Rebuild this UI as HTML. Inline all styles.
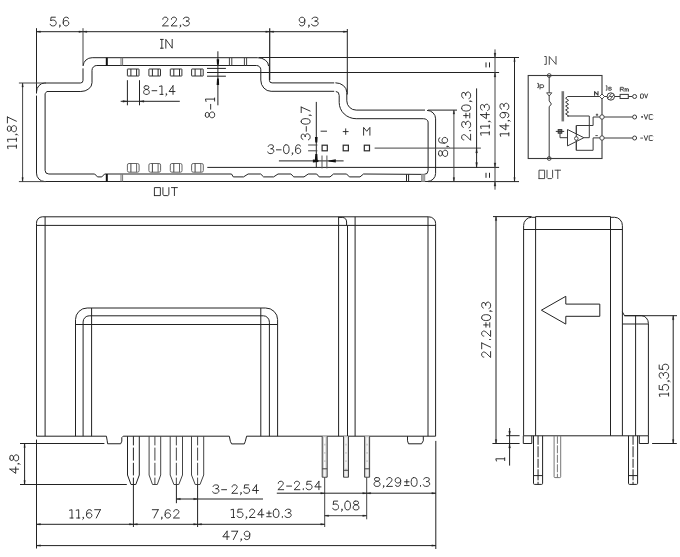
<!DOCTYPE html>
<html><head><meta charset="utf-8"><title>Current sensor outline drawing</title>
<style>html,body{margin:0;padding:0;background:#fff;font-family:"Liberation Sans",sans-serif;}body{width:680px;height:557px;overflow:hidden}</style>
</head><body>
<svg width="680" height="557" viewBox="0 0 680 557" style="display:block">
<rect width="680" height="557" fill="#fff"/>
<path d="M44.6,181.5 A8.1,8.4 0 0 1 36.5,173.1 V95.6 M36.5,93.4 V92 A8.3,9 0 0 1 44.8,83 H80.4 A2.6,2.6 0 0 0 83,80.4 V68.4 M83.2,65.8 A9,8.2 0 0 1 92.2,57.7 H257.7 A10.9,8.4 0 0 1 268.6,66.1 M269.4,66.3 V80.3 A2.7,2.6 0 0 0 272.1,82.9 H334.2 M335.4,82.8 A11.4,9.6 0 0 1 346.8,92.4 V100.8 A9.4,9.3 0 0 0 356.2,110.1 H425 M427,110.4 A8.6,8.4 0 0 1 435.6,118.8 V173.4 A8,8 0 0 1 427.6,181.4 M36.5,181.5" stroke="#222" stroke-width="1.00" fill="none"/>
<line x1="44.60" y1="181.50" x2="428.00" y2="181.50" stroke="#222" stroke-width="1.00"/>
<path d="M48.8,174 A3.8,3.6 0 0 1 45.1,170.4 V93.4 L47,91.5 H80.8 A11.2,8.8 0 0 0 92,82.7 V70.3 A4.8,4.8 0 0 1 96.8,65.5 H256.4 A4.4,4.2 0 0 1 260.8,69.7 V80.1 A10.3,11.2 0 0 0 271.1,91.3 H334.2 M335.8,91.5 A3.4,4 0 0 1 339.2,95.5 V102.5 A17,16.2 0 0 0 356.2,118.7 H423.3 A4.8,3.4 0 0 1 428.1,122.1 V170.6 A4,3.8 0 0 1 424.1,174.4 L363.5,174 L360.0,176.9 L349.4,176.9 L346.6,174 L333.5,174 L330.0,176.9 L319.2,176.9 L316.7,174 L308.2,174 L304.0,176.9 L293.8,176.9 L290.9,174 L278.0,174 L273.6,176.9 L263.6,176.9 L260.7,174 L248.1,174 L243.5,176.9 L233.3,176.9 L231.5,174 L104.6,174 L101.8,176.9 L97.5,176.9 L94.7,174 L48.8,174" stroke="#222" stroke-width="1.00" fill="none"/>
<line x1="106.80" y1="57.70" x2="106.80" y2="65.50" stroke="#111" stroke-width="2.00"/>
<line x1="121.00" y1="57.70" x2="121.00" y2="65.50" stroke="#777" stroke-width="1.00"/>
<line x1="122.60" y1="57.70" x2="122.60" y2="65.50" stroke="#777" stroke-width="1.00"/>
<line x1="106.80" y1="174.00" x2="106.80" y2="181.50" stroke="#111" stroke-width="2.00"/>
<line x1="121.00" y1="174.00" x2="121.00" y2="181.50" stroke="#777" stroke-width="1.00"/>
<line x1="122.60" y1="174.00" x2="122.60" y2="181.50" stroke="#777" stroke-width="1.00"/>
<line x1="229.40" y1="57.80" x2="229.40" y2="65.50" stroke="#444" stroke-width="1.00"/>
<line x1="231.80" y1="57.80" x2="231.80" y2="65.50" stroke="#444" stroke-width="1.00"/>
<line x1="244.40" y1="57.80" x2="244.40" y2="65.50" stroke="#444" stroke-width="1.00"/>
<line x1="246.60" y1="57.80" x2="246.60" y2="65.50" stroke="#444" stroke-width="1.00"/>
<line x1="406.50" y1="174.40" x2="406.50" y2="181.50" stroke="#222" stroke-width="1.00"/>
<line x1="408.60" y1="174.40" x2="408.60" y2="181.50" stroke="#222" stroke-width="1.00"/>
<rect x="421.60" y="174.40" width="3.20" height="7.10" rx="0.00" stroke="#888" stroke-width="0.80" fill="#aaa"/>
<rect x="127.40" y="69.00" width="11.60" height="7.00" rx="0.30" stroke="#333" stroke-width="1.00" fill="none"/>
<line x1="130.90" y1="69.00" x2="130.90" y2="76.00" stroke="#2a2a2a" stroke-width="1.00"/>
<line x1="136.60" y1="69.00" x2="136.60" y2="76.00" stroke="#2a2a2a" stroke-width="1.00"/>
<rect x="127.40" y="163.50" width="11.70" height="8.70" rx="1.60" stroke="#666" stroke-width="1.00" fill="none"/>
<line x1="130.90" y1="163.50" x2="130.90" y2="172.20" stroke="#444" stroke-width="1.00"/>
<line x1="136.60" y1="163.50" x2="136.60" y2="172.20" stroke="#666" stroke-width="1.00"/>
<rect x="148.90" y="69.00" width="11.60" height="7.00" rx="0.30" stroke="#333" stroke-width="1.00" fill="none"/>
<line x1="152.40" y1="69.00" x2="152.40" y2="76.00" stroke="#2a2a2a" stroke-width="1.00"/>
<line x1="158.10" y1="69.00" x2="158.10" y2="76.00" stroke="#2a2a2a" stroke-width="1.00"/>
<rect x="148.90" y="163.50" width="11.70" height="8.70" rx="1.60" stroke="#666" stroke-width="1.00" fill="none"/>
<line x1="152.40" y1="163.50" x2="152.40" y2="172.20" stroke="#444" stroke-width="1.00"/>
<line x1="158.10" y1="163.50" x2="158.10" y2="172.20" stroke="#666" stroke-width="1.00"/>
<rect x="170.30" y="69.00" width="11.60" height="7.00" rx="0.30" stroke="#333" stroke-width="1.00" fill="none"/>
<line x1="173.80" y1="69.00" x2="173.80" y2="76.00" stroke="#2a2a2a" stroke-width="1.00"/>
<line x1="179.50" y1="69.00" x2="179.50" y2="76.00" stroke="#2a2a2a" stroke-width="1.00"/>
<rect x="170.30" y="163.50" width="11.70" height="8.70" rx="1.60" stroke="#666" stroke-width="1.00" fill="none"/>
<line x1="173.80" y1="163.50" x2="173.80" y2="172.20" stroke="#444" stroke-width="1.00"/>
<line x1="179.50" y1="163.50" x2="179.50" y2="172.20" stroke="#666" stroke-width="1.00"/>
<rect x="191.60" y="69.00" width="11.60" height="7.00" rx="0.30" stroke="#333" stroke-width="1.00" fill="none"/>
<line x1="195.10" y1="69.00" x2="195.10" y2="76.00" stroke="#2a2a2a" stroke-width="1.00"/>
<line x1="200.80" y1="69.00" x2="200.80" y2="76.00" stroke="#2a2a2a" stroke-width="1.00"/>
<rect x="191.60" y="163.50" width="11.70" height="8.70" rx="1.60" stroke="#666" stroke-width="1.00" fill="none"/>
<line x1="195.10" y1="163.50" x2="195.10" y2="172.20" stroke="#444" stroke-width="1.00"/>
<line x1="200.80" y1="163.50" x2="200.80" y2="172.20" stroke="#666" stroke-width="1.00"/>
<rect x="322.10" y="145.20" width="5.20" height="5.60" rx="0.00" stroke="#2a2a2a" stroke-width="1.20" fill="none"/>
<rect x="343.20" y="145.20" width="5.20" height="5.60" rx="0.00" stroke="#2a2a2a" stroke-width="1.20" fill="none"/>
<rect x="364.30" y="145.20" width="5.20" height="5.60" rx="0.00" stroke="#2a2a2a" stroke-width="1.20" fill="none"/>
<path d="M321.00,131.20L326.60,131.20" stroke="#222" stroke-width="0.92" fill="none" stroke-linecap="round" stroke-linejoin="round"/>
<path d="M345.70,134.40L345.70,128.80M343.20,131.60L348.20,131.60" stroke="#222" stroke-width="0.92" fill="none" stroke-linecap="round" stroke-linejoin="round"/>
<path d="M363.60,135.20L363.60,127.40L366.75,131.30L369.90,127.40L369.90,135.20" stroke="#222" stroke-width="0.92" fill="none" stroke-linecap="round" stroke-linejoin="round"/>
<path d="M160.40,48.20L163.27,48.20M161.84,48.20L161.84,39.40M160.40,39.40L163.27,39.40M165.82,48.20L165.82,39.40L172.20,48.20L172.20,39.40" stroke="#222" stroke-width="0.92" fill="none" stroke-linecap="round" stroke-linejoin="round"/>
<path d="M154.40,195.60L154.40,187.60L160.36,187.60L160.36,195.60L154.40,195.60M162.92,187.60L162.92,194.67L163.96,195.60L167.84,195.60L168.88,194.67L168.88,187.60M171.44,187.60L177.40,187.60M174.42,187.60L174.42,195.60" stroke="#222" stroke-width="0.92" fill="none" stroke-linecap="round" stroke-linejoin="round"/>
<line x1="36.50" y1="31.70" x2="347.30" y2="31.70" stroke="#222" stroke-width="1.00"/>
<line x1="36.50" y1="28.20" x2="36.50" y2="93.20" stroke="#222" stroke-width="1.00"/>
<line x1="83.00" y1="28.20" x2="83.00" y2="65.80" stroke="#444" stroke-width="1.00"/>
<line x1="269.70" y1="28.20" x2="269.70" y2="80.00" stroke="#222" stroke-width="1.20"/>
<line x1="347.30" y1="29.00" x2="347.30" y2="94.50" stroke="#222" stroke-width="1.00"/>
<path d="M36.50,31.70L40.50,30.95L40.50,32.45Z" fill="#222" stroke="#222" stroke-width="0.3"/>
<path d="M82.90,31.70L78.90,32.45L78.90,30.95Z" fill="#222" stroke="#222" stroke-width="0.3"/>
<path d="M82.90,31.70L86.90,30.95L86.90,32.45Z" fill="#222" stroke="#222" stroke-width="0.3"/>
<path d="M269.70,31.70L265.70,32.45L265.70,30.95Z" fill="#222" stroke="#222" stroke-width="0.3"/>
<path d="M269.70,31.70L273.70,30.95L273.70,32.45Z" fill="#222" stroke="#222" stroke-width="0.3"/>
<path d="M347.30,31.70L343.30,32.45L343.30,30.95Z" fill="#222" stroke="#222" stroke-width="0.3"/>
<path d="M55.35,17.20L51.06,17.20L50.63,20.93L51.06,20.51L52.35,20.10L53.63,20.10L54.92,20.51L55.78,21.34L56.21,22.59L56.21,23.41L55.78,24.66L54.92,25.49L53.63,25.90L52.35,25.90L51.06,25.49L50.63,25.07L50.20,24.24M60.18,25.49L59.71,25.90L59.25,25.49L59.71,25.07L60.18,25.49L60.18,26.15L59.81,26.89L59.34,27.31M68.37,18.44L67.94,17.61L66.65,17.20L65.80,17.20L64.51,17.61L63.65,18.86L63.22,20.93L63.22,23.00L63.65,24.66L64.51,25.49L65.80,25.90L66.23,25.90L67.51,25.49L68.37,24.66L68.80,23.41L68.80,23.00L68.37,21.76L67.51,20.93L66.23,20.51L65.80,20.51L64.51,20.93L63.65,21.76L63.22,23.00" stroke="#222" stroke-width="0.92" fill="none" stroke-linecap="round" stroke-linejoin="round"/>
<path d="M162.82,19.27L162.82,18.86L163.24,18.03L163.65,17.61L164.49,17.20L166.16,17.20L167.00,17.61L167.42,18.03L167.84,18.86L167.84,19.69L167.42,20.51L166.58,21.76L162.40,25.90L168.25,25.90M171.45,19.27L171.45,18.86L171.87,18.03L172.29,17.61L173.13,17.20L174.80,17.20L175.64,17.61L176.05,18.03L176.47,18.86L176.47,19.69L176.05,20.51L175.22,21.76L171.04,25.90L176.89,25.90M180.76,25.49L180.31,25.90L179.85,25.49L180.31,25.07L180.76,25.49L180.76,26.15L180.40,26.89L179.95,27.31M183.49,18.86L183.95,18.03L184.85,17.45L185.76,17.20L187.13,17.20L188.49,17.61L188.95,18.44L188.95,19.48L188.49,20.31L187.35,20.93L185.99,21.14L187.35,21.14L188.49,21.55L189.17,22.38L189.40,23.41L189.40,23.83L188.95,24.66L188.04,25.49L186.67,25.90L185.31,25.90L183.95,25.49L183.49,25.07L183.04,24.24" stroke="#222" stroke-width="0.92" fill="none" stroke-linecap="round" stroke-linejoin="round"/>
<path d="M304.82,20.10L304.39,21.34L303.53,22.17L302.23,22.59L301.80,22.59L300.50,22.17L299.63,21.34L299.20,20.10L299.20,19.69L299.63,18.44L300.50,17.61L301.80,17.20L302.23,17.20L303.53,17.61L304.39,18.44L304.82,20.10L304.82,22.17L304.39,24.24L303.53,25.49L302.23,25.90L301.36,25.90L300.07,25.49L299.63,24.66M309.26,25.49L308.79,25.90L308.32,25.49L308.79,25.07L309.26,25.49L309.26,26.15L308.89,26.89L308.42,27.31M312.09,18.86L312.56,18.03L313.50,17.45L314.44,17.20L315.85,17.20L317.26,17.61L317.73,18.44L317.73,19.48L317.26,20.31L316.08,20.93L314.67,21.14L316.08,21.14L317.26,21.55L317.96,22.38L318.20,23.41L318.20,23.83L317.73,24.66L316.79,25.49L315.38,25.90L313.97,25.90L312.56,25.49L312.09,25.07L311.62,24.24" stroke="#222" stroke-width="0.92" fill="none" stroke-linecap="round" stroke-linejoin="round"/>
<line x1="18.90" y1="83.00" x2="46.00" y2="83.00" stroke="#444" stroke-width="1.00"/>
<line x1="18.90" y1="181.60" x2="46.00" y2="181.60" stroke="#444" stroke-width="1.00"/>
<line x1="22.60" y1="83.00" x2="22.60" y2="181.60" stroke="#444" stroke-width="1.00"/>
<path d="M22.60,83.00L23.35,87.00L21.85,87.00Z" fill="#222" stroke="#222" stroke-width="0.3"/>
<path d="M22.60,181.60L21.85,177.60L23.35,177.60Z" fill="#222" stroke="#222" stroke-width="0.3"/>
<path d="M8.04,148.70L7.40,146.17L16.40,146.17M16.40,148.24L16.40,145.02M8.04,141.81L7.40,139.28L16.40,139.28M16.40,141.35L16.40,138.13M15.97,134.22L16.40,134.68L15.97,135.14L15.54,134.68L15.97,134.22L16.66,134.22L17.43,134.59L17.86,135.05M7.40,129.54L7.83,130.80L8.69,131.23L9.54,131.23L10.40,130.80L10.83,129.96L11.26,128.27L11.69,127.00L12.54,126.15L13.40,125.73L14.69,125.73L15.54,126.15L15.97,126.58L16.40,127.85L16.40,129.54L15.97,130.80L15.54,131.23L14.69,131.65L13.40,131.65L12.54,131.23L11.69,130.38L11.26,129.11L10.83,127.42L10.40,126.58L9.54,126.15L8.69,126.15L7.83,126.58L7.40,127.85L7.40,129.54M7.40,117.00L16.40,121.23M7.40,122.92L7.40,117.00" stroke="#222" stroke-width="0.92" fill="none" stroke-linecap="round" stroke-linejoin="round"/>
<line x1="127.40" y1="80.20" x2="127.40" y2="105.30" stroke="#222" stroke-width="1.00"/>
<line x1="139.50" y1="80.20" x2="139.50" y2="105.30" stroke="#222" stroke-width="1.00"/>
<line x1="120.70" y1="101.30" x2="179.80" y2="101.30" stroke="#222" stroke-width="1.00"/>
<path d="M127.40,101.30L122.90,102.20L122.90,100.40Z" fill="#222" stroke="#222" stroke-width="0.3"/>
<path d="M139.50,101.30L144.00,100.40L144.00,102.20Z" fill="#222" stroke="#222" stroke-width="0.3"/>
<path d="M145.68,85.80L144.49,86.21L144.10,87.03L144.10,87.85L144.49,88.67L145.28,89.08L146.86,89.49L148.05,89.90L148.84,90.71L149.24,91.53L149.24,92.76L148.84,93.58L148.45,93.99L147.26,94.40L145.68,94.40L144.49,93.99L144.10,93.58L143.70,92.76L143.70,91.53L144.10,90.71L144.89,89.90L146.07,89.49L147.66,89.08L148.45,88.67L148.84,87.85L148.84,87.03L148.45,86.21L147.26,85.80L145.68,85.80M152.04,90.71L156.77,90.71M159.56,86.41L161.93,85.80L161.93,94.40M159.99,94.40L163.00,94.40M166.66,93.99L166.23,94.40L165.80,93.99L166.23,93.58L166.66,93.99L166.66,94.65L166.32,95.38L165.89,95.79M173.02,85.80L169.07,91.53L175.00,91.53M173.02,85.80L173.02,94.40" stroke="#222" stroke-width="0.92" fill="none" stroke-linecap="round" stroke-linejoin="round"/>
<line x1="217.90" y1="51.30" x2="217.90" y2="105.30" stroke="#222" stroke-width="1.00"/>
<line x1="207.00" y1="68.40" x2="225.90" y2="68.40" stroke="#222" stroke-width="1.00"/>
<line x1="207.00" y1="76.20" x2="225.90" y2="76.20" stroke="#222" stroke-width="1.00"/>
<path d="M216.65,59.20L217.00,64.80L218.80,64.80L219.15,59.20Z" fill="#111"/>
<path d="M219.15,85.10L218.80,78.60L217.00,78.60L216.65,85.10Z" fill="#111"/>
<path d="M205.40,115.68L205.84,116.89L206.71,117.30L207.59,117.30L208.47,116.89L208.90,116.09L209.34,114.47L209.78,113.26L210.66,112.45L211.53,112.05L212.85,112.05L213.72,112.45L214.16,112.86L214.60,114.07L214.60,115.68L214.16,116.89L213.72,117.30L212.85,117.70L211.53,117.70L210.66,117.30L209.78,116.49L209.34,115.28L208.90,113.66L208.47,112.86L207.59,112.45L206.71,112.45L205.84,112.86L205.40,114.07L205.40,115.68M210.66,109.19L210.66,104.36M206.06,101.51L205.40,99.10L214.60,99.10M214.60,101.07L214.60,98.00" stroke="#222" stroke-width="0.92" fill="none" stroke-linecap="round" stroke-linejoin="round"/>
<line x1="259.00" y1="57.50" x2="519.00" y2="57.50" stroke="#222" stroke-width="1.00"/>
<line x1="207.00" y1="72.50" x2="499.10" y2="72.50" stroke="#222" stroke-width="1.00"/>
<line x1="207.30" y1="167.40" x2="499.10" y2="167.40" stroke="#222" stroke-width="1.00"/>
<line x1="428.00" y1="181.60" x2="519.00" y2="181.60" stroke="#222" stroke-width="1.00"/>
<line x1="374.60" y1="148.10" x2="480.90" y2="148.10" stroke="#444" stroke-width="1.00"/>
<line x1="428.00" y1="110.10" x2="457.00" y2="110.10" stroke="#222" stroke-width="1.00"/>
<line x1="453.90" y1="110.10" x2="453.90" y2="181.60" stroke="#444" stroke-width="1.00"/>
<path d="M453.90,110.10L454.65,114.10L453.15,114.10Z" fill="#222" stroke="#222" stroke-width="0.3"/>
<path d="M453.90,181.60L453.15,177.60L454.65,177.60Z" fill="#222" stroke="#222" stroke-width="0.3"/>
<path d="M438.60,154.21L439.03,155.52L439.89,155.96L440.74,155.96L441.60,155.52L442.03,154.65L442.46,152.89L442.89,151.58L443.74,150.70L444.60,150.26L445.89,150.26L446.74,150.70L447.17,151.14L447.60,152.46L447.60,154.21L447.17,155.52L446.74,155.96L445.89,156.40L444.60,156.40L443.74,155.96L442.89,155.09L442.46,153.77L442.03,152.02L441.60,151.14L440.74,150.70L439.89,150.70L439.03,151.14L438.60,152.46L438.60,154.21M447.17,146.20L447.60,146.68L447.17,147.16L446.74,146.68L447.17,146.20L447.86,146.20L448.63,146.59L449.06,147.06M439.89,137.84L439.03,138.28L438.60,139.59L438.60,140.47L439.03,141.78L440.31,142.66L442.46,143.10L444.60,143.10L446.31,142.66L447.17,141.78L447.60,140.47L447.60,140.03L447.17,138.71L446.31,137.84L445.03,137.40L444.60,137.40L443.31,137.84L442.46,138.71L442.03,140.03L442.03,140.47L442.46,141.78L443.31,142.66L444.60,143.10" stroke="#222" stroke-width="0.92" fill="none" stroke-linecap="round" stroke-linejoin="round"/>
<line x1="476.60" y1="88.40" x2="476.60" y2="167.40" stroke="#222" stroke-width="1.00"/>
<path d="M476.60,148.10L477.50,152.90L475.70,152.90Z" fill="#222" stroke="#222" stroke-width="0.3"/>
<path d="M476.60,167.40L475.70,162.60L477.50,162.60Z" fill="#222" stroke="#222" stroke-width="0.3"/>
<path d="M463.82,139.87L463.40,139.87L462.55,139.43L462.12,139.00L461.70,138.13L461.70,136.39L462.12,135.53L462.55,135.09L463.40,134.66L464.24,134.66L465.09,135.09L466.36,135.96L470.60,140.30L470.60,134.22M469.75,130.68L470.18,131.15L470.60,130.68L470.18,130.21L469.75,130.68M463.40,127.38L462.55,126.90L461.95,125.96L461.70,125.02L461.70,123.60L462.12,122.19L462.97,121.72L464.03,121.72L464.88,122.19L465.51,123.37L465.73,124.78L465.73,123.37L466.15,122.19L467.00,121.48L468.06,121.24L468.48,121.24L469.33,121.72L470.18,122.66L470.60,124.07L470.60,125.49L470.18,126.90L469.75,127.38L468.90,127.85M463.61,115.58L468.27,115.58M465.94,117.94L465.94,113.23M469.75,117.94L469.75,113.23M461.70,108.45L462.12,109.75L463.40,110.62L465.51,111.06L466.79,111.06L468.90,110.62L470.18,109.75L470.60,108.45L470.60,107.58L470.18,106.28L468.90,105.41L466.79,104.98L465.51,104.98L463.40,105.41L462.12,106.28L461.70,107.58L461.70,108.45M470.18,100.96L470.60,101.43L470.18,101.91L469.75,101.43L470.18,100.96L470.85,100.96L471.62,101.34L472.04,101.81M463.40,98.13L462.55,97.66L461.95,96.72L461.70,95.77L461.70,94.36L462.12,92.94L462.97,92.47L464.03,92.47L464.88,92.94L465.51,94.12L465.73,95.54L465.73,94.12L466.15,92.94L467.00,92.24L468.06,92.00L468.48,92.00L469.33,92.47L470.18,93.42L470.60,94.83L470.60,96.25L470.18,97.66L469.75,98.13L468.90,98.60" stroke="#222" stroke-width="0.92" fill="none" stroke-linecap="round" stroke-linejoin="round"/>
<line x1="495.00" y1="49.40" x2="495.00" y2="189.70" stroke="#444" stroke-width="1.00"/>
<path d="M495.00,57.60L494.15,53.10L495.85,53.10Z" fill="#222" stroke="#222" stroke-width="0.3"/>
<path d="M495.00,72.50L495.85,77.00L494.15,77.00Z" fill="#222" stroke="#222" stroke-width="0.3"/>
<path d="M495.00,167.40L494.15,162.90L495.85,162.90Z" fill="#222" stroke="#222" stroke-width="0.3"/>
<path d="M495.00,181.60L495.85,186.10L494.15,186.10Z" fill="#222" stroke="#222" stroke-width="0.3"/>
<path d="M481.13,135.30L480.50,132.84L489.30,132.84M489.30,134.85L489.30,131.72M481.13,128.59L480.50,126.13L489.30,126.13M489.30,128.14L489.30,125.01M488.88,121.20L489.30,121.65L488.88,122.10L488.46,121.65L488.88,121.20L489.55,121.20L490.31,121.56L490.72,122.01M480.50,114.58L486.37,118.70L486.37,112.52M480.50,114.58L489.30,114.58M482.18,110.02L481.34,109.57L480.75,108.67L480.50,107.78L480.50,106.44L480.92,105.09L481.76,104.65L482.80,104.65L483.64,105.09L484.27,106.21L484.48,107.56L484.48,106.21L484.90,105.09L485.74,104.42L486.79,104.20L487.20,104.20L488.04,104.65L488.88,105.54L489.30,106.88L489.30,108.23L488.88,109.57L488.46,110.02L487.62,110.46" stroke="#222" stroke-width="0.92" fill="none" stroke-linecap="round" stroke-linejoin="round"/>
<line x1="486.00" y1="62.40" x2="486.00" y2="67.40" stroke="#222" stroke-width="1.00"/>
<line x1="489.50" y1="62.40" x2="489.50" y2="67.40" stroke="#222" stroke-width="1.00"/>
<line x1="486.00" y1="172.80" x2="486.00" y2="177.80" stroke="#222" stroke-width="1.00"/>
<line x1="489.50" y1="172.80" x2="489.50" y2="177.80" stroke="#222" stroke-width="1.00"/>
<line x1="514.50" y1="57.60" x2="514.50" y2="181.60" stroke="#222" stroke-width="1.00"/>
<path d="M514.50,57.60L515.25,61.60L513.75,61.60Z" fill="#222" stroke="#222" stroke-width="0.3"/>
<path d="M514.50,181.60L513.75,177.60L515.25,177.60Z" fill="#222" stroke="#222" stroke-width="0.3"/>
<path d="M500.63,136.30L500.00,133.83L508.80,133.83M508.80,135.85L508.80,132.71M500.00,125.84L505.87,129.97L505.87,123.77M500.00,125.84L508.80,125.84M508.38,120.36L508.80,120.81L508.38,121.26L507.96,120.81L508.38,120.36L509.05,120.36L509.81,120.72L510.22,121.17M502.93,112.48L504.19,112.89L505.03,113.72L505.45,114.96L505.45,115.37L505.03,116.61L504.19,117.43L502.93,117.85L502.51,117.85L501.26,117.43L500.42,116.61L500.00,115.37L500.00,114.96L500.42,113.72L501.26,112.89L502.93,112.48L505.03,112.48L507.12,112.89L508.38,113.72L508.80,114.96L508.80,115.78L508.38,117.02L507.54,117.43M501.68,109.14L500.84,108.69L500.25,107.79L500.00,106.89L500.00,105.54L500.42,104.20L501.26,103.75L502.30,103.75L503.14,104.20L503.77,105.32L503.98,106.67L503.98,105.32L504.40,104.20L505.24,103.52L506.29,103.30L506.70,103.30L507.54,103.75L508.38,104.65L508.80,105.99L508.80,107.34L508.38,108.69L507.96,109.14L507.12,109.59" stroke="#222" stroke-width="0.92" fill="none" stroke-linecap="round" stroke-linejoin="round"/>
<line x1="316.30" y1="101.90" x2="316.30" y2="167.40" stroke="#222" stroke-width="1.00"/>
<line x1="308.10" y1="145.00" x2="317.40" y2="145.00" stroke="#444" stroke-width="1.00"/>
<line x1="308.10" y1="150.80" x2="317.40" y2="150.80" stroke="#444" stroke-width="1.00"/>
<path d="M314.95,136.90L315.30,142.40L317.30,142.40L317.65,136.90Z" fill="#111"/>
<path d="M317.75,160.60L317.30,154.00L315.30,154.00L314.85,160.60Z" fill="#111"/>
<path d="M302.90,139.37L302.05,138.94L301.45,138.09L301.20,137.23L301.20,135.95L301.62,134.67L302.47,134.24L303.53,134.24L304.38,134.67L305.01,135.74L305.23,137.02L305.23,135.74L305.65,134.67L306.50,134.03L307.56,133.81L307.98,133.81L308.83,134.24L309.68,135.10L310.10,136.38L310.10,137.66L309.68,138.94L309.25,139.37L308.40,139.80M306.29,131.25L306.29,126.55M301.20,121.79L301.62,122.97L302.90,123.76L305.01,124.15L306.29,124.15L308.40,123.76L309.68,122.97L310.10,121.79L310.10,121.00L309.68,119.82L308.40,119.04L306.29,118.64L305.01,118.64L302.90,119.04L301.62,119.82L301.20,121.00L301.20,121.79M309.68,115.00L310.10,115.43L309.68,115.86L309.25,115.43L309.68,115.00L310.35,115.00L311.12,115.34L311.54,115.77M301.20,107.10L310.10,111.03M301.20,112.61L301.20,107.10" stroke="#222" stroke-width="0.92" fill="none" stroke-linecap="round" stroke-linejoin="round"/>
<path d="M268.23,146.48L268.66,145.64L269.52,145.05L270.38,144.80L271.67,144.80L272.96,145.22L273.39,146.06L273.39,147.10L272.96,147.94L271.89,148.57L270.60,148.78L271.89,148.78L272.96,149.20L273.61,150.04L273.82,151.09L273.82,151.50L273.39,152.34L272.53,153.18L271.24,153.60L269.95,153.60L268.66,153.18L268.23,152.76L267.80,151.92M276.40,149.83L281.14,149.83M285.92,144.80L284.73,145.22L283.94,146.48L283.54,148.57L283.54,149.83L283.94,151.92L284.73,153.18L285.92,153.60L286.71,153.60L287.90,153.18L288.69,151.92L289.09,149.83L289.09,148.57L288.69,146.48L287.90,145.22L286.71,144.80L285.92,144.80M292.75,153.18L292.32,153.60L291.89,153.18L292.32,152.76L292.75,153.18L292.75,153.85L292.41,154.61L291.98,155.02M300.30,146.06L299.91,145.22L298.72,144.80L297.93,144.80L296.74,145.22L295.95,146.48L295.56,148.57L295.56,150.67L295.95,152.34L296.74,153.18L297.93,153.60L298.33,153.60L299.51,153.18L300.30,152.34L300.70,151.09L300.70,150.67L300.30,149.41L299.51,148.57L298.33,148.15L297.93,148.15L296.74,148.57L295.95,149.41L295.56,150.67" stroke="#222" stroke-width="0.92" fill="none" stroke-linecap="round" stroke-linejoin="round"/>
<line x1="278.90" y1="160.90" x2="343.60" y2="160.90" stroke="#222" stroke-width="1.00"/>
<line x1="322.00" y1="155.50" x2="322.00" y2="168.40" stroke="#555" stroke-width="1.00"/>
<line x1="326.90" y1="155.50" x2="326.90" y2="168.40" stroke="#555" stroke-width="1.00"/>
<path d="M312.90,162.40L318.40,161.90L318.40,159.90L312.90,159.40Z" fill="#111"/>
<path d="M335.80,159.20L328.60,160.40L328.60,161.40L335.80,162.60Z" fill="#111"/>
<rect x="528.20" y="75.50" width="73.80" height="83.00" rx="0.00" stroke="#3a3a3a" stroke-width="1.10" fill="none"/>
<line x1="549.20" y1="75.50" x2="549.20" y2="100.90" stroke="#3a3a3a" stroke-width="1.00"/>
<path d="M549.2,100.9 L551.4,104 L549.2,106.8 V158.5" stroke="#3a3a3a" stroke-width="1.00" fill="none"/>
<path d="M546.6,92.8 H551.8 L549.2,96 Z" stroke="#3a3a3a" stroke-width="0.90" fill="#fff"/>
<circle cx="549.20" cy="75.50" r="1.90" stroke="#3a3a3a" stroke-width="0.90" fill="none"/>
<circle cx="549.20" cy="158.50" r="1.90" stroke="#3a3a3a" stroke-width="0.90" fill="none"/>
<line x1="562.80" y1="91.20" x2="562.80" y2="121.40" stroke="#777" stroke-width="2.60"/>
<path d="M602,96.5 H567.6 L565.6,98.25 L568.6,100.40 L565.6,102.16 L568.6,104.30 L565.6,106.06 L568.6,108.20 L565.6,109.96 L568.6,112.10 L565.6,113.86 L568.6,116.00 L567.4,116 H589.3 V137.7 H583.9" stroke="#3a3a3a" stroke-width="1.00" fill="none"/>
<path d="M602,117 H593.1 V125.5 H576.3 V150.3 H593.1 V137.9 H602" stroke="#3a3a3a" stroke-width="1.00" fill="none"/>
<path d="M567.5,129.5 V145.9 L583.9,137.7 Z" stroke="#3a3a3a" stroke-width="1.00" fill="#fff"/>
<line x1="576.30" y1="125.50" x2="576.30" y2="150.30" stroke="#3a3a3a" stroke-width="1.00"/>
<circle cx="576.30" cy="138.50" r="1.80" stroke="#3a3a3a" stroke-width="0.90" fill="#fff"/>
<rect x="558.20" y="129.60" width="3.60" height="3.60" rx="0.00" stroke="#333" stroke-width="1.00" fill="#777"/>
<line x1="555.80" y1="131.40" x2="564.20" y2="131.40" stroke="#333" stroke-width="1.00"/>
<path d="M560,133.2 V137.7 H567.5" stroke="#3a3a3a" stroke-width="1.00" fill="none"/>
<line x1="602.00" y1="96.50" x2="632.30" y2="96.50" stroke="#3a3a3a" stroke-width="1.00"/>
<path d="M599.5,96.5 L602,94 L604.5,96.5 L602,99 Z" stroke="#3a3a3a" stroke-width="0.90" fill="#fff"/>
<circle cx="610.80" cy="96.50" r="3.70" stroke="#3a3a3a" stroke-width="1.00" fill="#fff"/>
<path d="M607.6,98.4 L611.6,93.4 M610,99.6 L614,94.6 M609.4,96.2 L612.2,96.8" stroke="#3a3a3a" stroke-width="0.90" fill="none"/>
<rect x="620.10" y="94.40" width="8.20" height="4.10" rx="0.00" stroke="#3a3a3a" stroke-width="1.00" fill="#fff"/>
<circle cx="634.60" cy="96.50" r="2.00" stroke="#3a3a3a" stroke-width="1.00" fill="#fff"/>
<line x1="602.00" y1="117.00" x2="632.30" y2="117.00" stroke="#3a3a3a" stroke-width="1.00"/>
<line x1="602.00" y1="138.00" x2="632.30" y2="138.00" stroke="#3a3a3a" stroke-width="1.00"/>
<circle cx="602.00" cy="117.00" r="2.20" stroke="#3a3a3a" stroke-width="0.90" fill="#fff"/>
<circle cx="602.00" cy="138.00" r="2.20" stroke="#3a3a3a" stroke-width="0.90" fill="#fff"/>
<circle cx="634.60" cy="117.00" r="2.00" stroke="#3a3a3a" stroke-width="1.00" fill="#fff"/>
<circle cx="634.60" cy="138.00" r="2.00" stroke="#3a3a3a" stroke-width="1.00" fill="#fff"/>
<path d="M544.70,56.50L546.24,56.50L546.24,64.40L544.70,64.40M549.27,64.40L549.27,56.50L556.00,64.40L556.00,56.50" stroke="#3a3a3a" stroke-width="0.92" fill="none" stroke-linecap="round" stroke-linejoin="round"/>
<path d="M539.00,178.60L539.00,170.20L544.60,170.20L544.60,178.60L539.00,178.60M547.00,170.20L547.00,177.62L547.98,178.60L551.62,178.60L552.60,177.62L552.60,170.20M555.00,170.20L560.60,170.20M557.80,170.20L557.80,178.60" stroke="#3a3a3a" stroke-width="0.92" fill="none" stroke-linecap="round" stroke-linejoin="round"/>
<path d="M537.60,83.40L538.42,83.40L538.42,87.60L537.60,87.60M540.03,89.00L540.03,84.80M540.03,85.29L540.65,84.80L542.97,84.80L543.60,85.29L543.60,87.11L542.97,87.60L540.65,87.60L540.03,87.11" stroke="#3a3a3a" stroke-width="0.90" fill="none" stroke-linecap="round" stroke-linejoin="round"/>
<path d="M594.60,95.20L594.60,91.60L598.00,95.20L598.00,91.60" stroke="#3a3a3a" stroke-width="1.10" fill="none" stroke-linecap="round" stroke-linejoin="round"/>
<path d="M606.20,85.80L606.92,85.80L606.92,90.20L606.20,90.20M611.50,87.78L610.95,87.27L608.90,87.27L608.34,87.78L608.34,88.22L608.90,88.73L610.95,88.73L611.50,89.25L611.50,89.69L610.95,90.20L608.90,90.20L608.34,89.69" stroke="#3a3a3a" stroke-width="0.90" fill="none" stroke-linecap="round" stroke-linejoin="round"/>
<path d="M620.30,91.20L620.30,87.30L623.09,87.30L623.68,87.75L623.68,88.80L623.09,89.25L620.30,89.25M621.99,89.25L623.68,91.20M625.12,91.20L625.12,88.60M625.12,89.06L625.71,88.60L626.31,88.60L626.81,89.06L626.81,91.20M626.81,89.06L627.40,88.60L627.99,88.60L628.50,89.06L628.50,91.20" stroke="#3a3a3a" stroke-width="0.90" fill="none" stroke-linecap="round" stroke-linejoin="round"/>
<path d="M640.50,97.78L640.50,94.42L640.94,94.00L642.99,94.00L643.42,94.42L643.42,97.78L642.99,98.20L640.94,98.20L640.50,97.78M644.68,94.00L646.14,98.20L647.60,94.00" stroke="#3a3a3a" stroke-width="0.90" fill="none" stroke-linecap="round" stroke-linejoin="round"/>
<path d="M644.20,114.60L645.95,119.40L647.70,114.60M652.70,114.92L652.44,114.60L649.55,114.60L649.20,114.92L649.20,119.08L649.55,119.40L652.44,119.40L652.70,119.08" stroke="#3a3a3a" stroke-width="0.90" fill="none" stroke-linecap="round" stroke-linejoin="round"/>
<path d="M644.20,135.70L645.95,140.50L647.70,135.70M652.70,136.02L652.44,135.70L649.55,135.70L649.20,136.02L649.20,140.18L649.55,140.50L652.44,140.50L652.70,140.18" stroke="#3a3a3a" stroke-width="0.90" fill="none" stroke-linecap="round" stroke-linejoin="round"/>
<line x1="641.20" y1="116.90" x2="643.00" y2="116.90" stroke="#3a3a3a" stroke-width="1.00"/>
<line x1="642.10" y1="116.00" x2="642.10" y2="117.80" stroke="#3a3a3a" stroke-width="1.00"/>
<line x1="640.30" y1="138.10" x2="643.00" y2="138.10" stroke="#3a3a3a" stroke-width="0.90"/>
<line x1="595.80" y1="114.80" x2="598.20" y2="114.80" stroke="#3a3a3a" stroke-width="0.90"/>
<line x1="597.00" y1="113.60" x2="597.00" y2="116.00" stroke="#3a3a3a" stroke-width="0.90"/>
<line x1="595.40" y1="135.60" x2="597.80" y2="135.60" stroke="#3a3a3a" stroke-width="0.90"/>
<path d="M36.5,436.2 V223.4 A6,6.2 0 0 1 42.3,216.8 H428.6 A7,6.4 0 0 1 435.6,223.6 V436.2" stroke="#222" stroke-width="1.00" fill="none"/>
<line x1="36.50" y1="225.40" x2="435.60" y2="225.40" stroke="#222" stroke-width="1.00"/>
<line x1="45.10" y1="216.80" x2="45.10" y2="436.20" stroke="#222" stroke-width="1.00"/>
<line x1="338.60" y1="216.80" x2="338.60" y2="436.20" stroke="#222" stroke-width="1.00"/>
<path d="M338.6,217.4 H342.3 A4.6,4.8 0 0 1 346.6,222 V225.4" stroke="#222" stroke-width="1.00" fill="none"/>
<line x1="347.50" y1="225.40" x2="347.50" y2="436.20" stroke="#222" stroke-width="1.00"/>
<line x1="355.10" y1="216.80" x2="355.10" y2="436.20" stroke="#222" stroke-width="1.00"/>
<line x1="428.00" y1="216.80" x2="428.00" y2="436.20" stroke="#222" stroke-width="1.00"/>
<path d="M75.5,436.2 V319.6 A11.7,11.6 0 0 1 87.2,308 H265.6 A12,11.6 0 0 1 277.6,319.6 V436.2" stroke="#222" stroke-width="1.00" fill="none"/>
<path d="M83.1,436.2 V322 A6.1,6.2 0 0 1 89.2,315.8 H263.4 A6,6.4 0 0 1 269.4,322.2 V436.2" stroke="#222" stroke-width="1.00" fill="none"/>
<line x1="75.50" y1="324.50" x2="277.60" y2="324.50" stroke="#222" stroke-width="1.00"/>
<line x1="91.60" y1="308.00" x2="91.60" y2="436.20" stroke="#222" stroke-width="1.00"/>
<line x1="260.80" y1="308.00" x2="260.80" y2="436.20" stroke="#222" stroke-width="1.00"/>
<path d="M36.5,436.2 H106.4 L107.1,440.2 L107.6,443.75 H120.7 L121.8,441.2 V437.6 L123.2,436.2 H229.3 L230.4,441.4 L231.6,443.9 H244.3 L245.3,441.4 L246.6,436.2 H435.6 M407.5,436.2 V440.8 L408.5,443.8 H421.5 L423.3,440.8 V436.2" stroke="#222" stroke-width="1.00" fill="none"/>
<path d="M127.5,436.2 V475 L131.0,484.5 H135.8 L139.3,475 V436.2" stroke="#222" stroke-width="1.00" fill="none"/>
<line x1="133.40" y1="436.20" x2="133.40" y2="484.50" stroke="#222" stroke-width="1.00" stroke-dasharray="9.2 2.2 13 2.2 12.6 2.2 8 0"/>
<path d="M149.1,436.2 V475 L152.5,484.5 H157.3 L160.7,475 V436.2" stroke="#444" stroke-width="1.00" fill="none"/>
<line x1="154.90" y1="436.20" x2="154.90" y2="484.50" stroke="#444" stroke-width="1.00" stroke-dasharray="9.2 2.2 13 2.2 12.6 2.2 8 0"/>
<path d="M170.2,436.2 V475 L173.9,484.5 H178.8 L182.5,475 V436.2" stroke="#444" stroke-width="1.00" fill="none"/>
<line x1="176.35" y1="436.20" x2="176.35" y2="484.50" stroke="#444" stroke-width="1.00" stroke-dasharray="9.2 2.2 13 2.2 12.6 2.2 8 0"/>
<path d="M191.5,436.2 V475 L195.2,484.5 H200.0 L203.7,475 V436.2" stroke="#444" stroke-width="1.00" fill="none"/>
<line x1="197.60" y1="436.20" x2="197.60" y2="484.50" stroke="#444" stroke-width="1.00" stroke-dasharray="9.2 2.2 13 2.2 12.6 2.2 8 0"/>
<path d="M322.2,436.2 V477.2 H327.2 V436.2" stroke="#444" stroke-width="1.00" fill="#d4d4d4"/>
<line x1="324.70" y1="437.20" x2="324.70" y2="468.80" stroke="#fff" stroke-width="1.40" stroke-dasharray="6.5 1.8"/>
<line x1="322.20" y1="468.80" x2="327.20" y2="468.80" stroke="#444" stroke-width="1.00"/>
<line x1="324.70" y1="469.80" x2="324.70" y2="476.60" stroke="#f4f4f4" stroke-width="1.60"/>
<path d="M343.5,436.2 V477.2 H348.5 V436.2" stroke="#444" stroke-width="1.00" fill="#d4d4d4"/>
<line x1="346.00" y1="437.20" x2="346.00" y2="470.30" stroke="#fff" stroke-width="1.40" stroke-dasharray="6.5 1.8"/>
<line x1="343.50" y1="470.30" x2="348.50" y2="470.30" stroke="#444" stroke-width="1.00"/>
<line x1="346.00" y1="471.30" x2="346.00" y2="476.60" stroke="#f4f4f4" stroke-width="1.60"/>
<path d="M364.6,436.2 V477.2 H369.6 V436.2" stroke="#444" stroke-width="1.00" fill="#d4d4d4"/>
<line x1="367.10" y1="437.20" x2="367.10" y2="468.80" stroke="#fff" stroke-width="1.40" stroke-dasharray="6.5 1.8"/>
<line x1="364.60" y1="468.80" x2="369.60" y2="468.80" stroke="#444" stroke-width="1.00"/>
<line x1="367.10" y1="469.80" x2="367.10" y2="476.60" stroke="#f4f4f4" stroke-width="1.60"/>
<line x1="20.00" y1="443.50" x2="104.40" y2="443.50" stroke="#222" stroke-width="1.00"/>
<line x1="20.00" y1="484.50" x2="126.80" y2="484.50" stroke="#222" stroke-width="1.00"/>
<line x1="24.60" y1="443.50" x2="24.60" y2="484.50" stroke="#222" stroke-width="1.00"/>
<path d="M24.60,443.50L25.35,447.50L23.85,447.50Z" fill="#222" stroke="#222" stroke-width="0.3"/>
<path d="M24.60,484.50L23.85,480.50L25.35,480.50Z" fill="#222" stroke="#222" stroke-width="0.3"/>
<path d="M9.90,469.13L15.70,473.40L15.70,467.00M9.90,469.13L18.60,469.13M18.19,463.47L18.60,463.94L18.19,464.40L17.77,463.94L18.19,463.47L18.85,463.47L19.59,463.84L20.01,464.31M9.90,458.74L10.31,460.02L11.14,460.45L11.97,460.45L12.80,460.02L13.21,459.17L13.63,457.46L14.04,456.18L14.87,455.33L15.70,454.90L16.94,454.90L17.77,455.33L18.19,455.75L18.60,457.03L18.60,458.74L18.19,460.02L17.77,460.45L16.94,460.87L15.70,460.87L14.87,460.45L14.04,459.59L13.63,458.31L13.21,456.61L12.80,455.75L11.97,455.33L11.14,455.33L10.31,455.75L9.90,457.03L9.90,458.74" stroke="#222" stroke-width="0.92" fill="none" stroke-linecap="round" stroke-linejoin="round"/>
<line x1="36.50" y1="439.60" x2="36.50" y2="548.50" stroke="#222" stroke-width="1.00"/>
<line x1="435.80" y1="440.90" x2="435.80" y2="549.00" stroke="#222" stroke-width="1.00"/>
<line x1="133.40" y1="484.50" x2="133.40" y2="527.00" stroke="#222" stroke-width="1.00"/>
<line x1="176.40" y1="484.50" x2="176.40" y2="503.20" stroke="#222" stroke-width="1.00"/>
<line x1="197.60" y1="484.50" x2="197.60" y2="527.00" stroke="#222" stroke-width="1.00"/>
<line x1="324.70" y1="477.20" x2="324.70" y2="527.00" stroke="#444" stroke-width="1.00"/>
<line x1="366.70" y1="477.20" x2="366.70" y2="519.30" stroke="#444" stroke-width="1.00"/>
<line x1="36.50" y1="524.30" x2="324.70" y2="524.30" stroke="#222" stroke-width="1.00"/>
<path d="M36.50,524.30L40.50,523.55L40.50,525.05Z" fill="#222" stroke="#222" stroke-width="0.3"/>
<path d="M133.40,524.30L129.40,525.05L129.40,523.55Z" fill="#222" stroke="#222" stroke-width="0.3"/>
<path d="M133.40,524.30L137.40,523.55L137.40,525.05Z" fill="#222" stroke="#222" stroke-width="0.3"/>
<path d="M197.60,524.30L193.60,525.05L193.60,523.55Z" fill="#222" stroke="#222" stroke-width="0.3"/>
<path d="M197.60,524.30L201.60,523.55L201.60,525.05Z" fill="#222" stroke="#222" stroke-width="0.3"/>
<path d="M324.70,524.30L320.70,525.05L320.70,523.55Z" fill="#222" stroke="#222" stroke-width="0.3"/>
<path d="M69.50,510.29L71.96,509.70L71.96,518.00M69.95,518.00L73.08,518.00M76.22,510.29L78.68,509.70L78.68,518.00M76.67,518.00L79.80,518.00M83.61,517.60L83.16,518.00L82.71,517.60L83.16,517.21L83.61,517.60L83.61,518.24L83.25,518.95L82.80,519.34M91.48,510.89L91.06,510.10L89.83,509.70L89.00,509.70L87.77,510.10L86.94,511.28L86.53,513.26L86.53,515.23L86.94,516.81L87.77,517.60L89.00,518.00L89.42,518.00L90.65,517.60L91.48,516.81L91.89,515.63L91.89,515.23L91.48,514.05L90.65,513.26L89.42,512.86L89.00,512.86L87.77,513.26L86.94,514.05L86.53,515.23M100.40,509.70L96.28,518.00M94.63,509.70L100.40,509.70" stroke="#222" stroke-width="0.92" fill="none" stroke-linecap="round" stroke-linejoin="round"/>
<path d="M158.21,509.70L153.99,518.00M152.30,509.70L158.21,509.70M162.11,517.60L161.65,518.00L161.20,517.60L161.65,517.21L162.11,517.60L162.11,518.24L161.75,518.95L161.29,519.34M170.17,510.89L169.74,510.10L168.48,509.70L167.63,509.70L166.37,510.10L165.52,511.28L165.10,513.26L165.10,515.23L165.52,516.81L166.37,517.60L167.63,518.00L168.06,518.00L169.32,517.60L170.17,516.81L170.59,515.63L170.59,515.23L170.17,514.05L169.32,513.26L168.06,512.86L167.63,512.86L166.37,513.26L165.52,514.05L165.10,515.23M173.82,511.68L173.82,511.28L174.24,510.49L174.66,510.10L175.50,509.70L177.19,509.70L178.03,510.10L178.46,510.49L178.88,511.28L178.88,512.07L178.46,512.86L177.61,514.05L173.39,518.00L179.30,518.00" stroke="#222" stroke-width="0.92" fill="none" stroke-linecap="round" stroke-linejoin="round"/>
<path d="M231.00,509.79L233.44,509.20L233.44,517.50M231.44,517.50L234.55,517.50M242.17,509.20L238.08,509.20L237.67,512.76L238.08,512.36L239.31,511.97L240.53,511.97L241.76,512.36L242.58,513.15L242.99,514.34L242.99,515.13L242.58,516.31L241.76,517.10L240.53,517.50L239.31,517.50L238.08,517.10L237.67,516.71L237.26,515.92M246.77,517.10L246.33,517.50L245.88,517.10L246.33,516.71L246.77,517.10L246.77,517.74L246.42,518.45L245.97,518.84M249.67,511.18L249.67,510.78L250.08,509.99L250.49,509.60L251.30,509.20L252.94,509.20L253.76,509.60L254.16,509.99L254.57,510.78L254.57,511.57L254.16,512.36L253.35,513.55L249.26,517.50L254.98,517.50M261.79,509.20L257.70,514.73L263.83,514.73M261.79,509.20L261.79,517.50M268.99,510.98L268.99,515.33M266.76,513.15L271.21,513.15M266.76,516.71L271.21,516.71M275.70,509.20L274.48,509.60L273.66,510.78L273.25,512.76L273.25,513.94L273.66,515.92L274.48,517.10L275.70,517.50L276.52,517.50L277.75,517.10L278.56,515.92L278.97,513.94L278.97,512.76L278.56,510.78L277.75,509.60L276.52,509.20L275.70,509.20M282.31,516.71L281.87,517.10L282.31,517.50L282.76,517.10L282.31,516.71M285.42,510.78L285.87,509.99L286.76,509.44L287.65,509.20L288.98,509.20L290.31,509.60L290.76,510.39L290.76,511.37L290.31,512.16L289.20,512.76L287.87,512.95L289.20,512.95L290.31,513.35L290.98,514.14L291.20,515.13L291.20,515.52L290.76,516.31L289.87,517.10L288.53,517.50L287.20,517.50L285.87,517.10L285.42,516.71L284.98,515.92" stroke="#222" stroke-width="0.92" fill="none" stroke-linecap="round" stroke-linejoin="round"/>
<line x1="36.50" y1="545.60" x2="435.80" y2="545.60" stroke="#222" stroke-width="1.00"/>
<path d="M36.50,545.60L40.50,544.85L40.50,546.35Z" fill="#222" stroke="#222" stroke-width="0.3"/>
<path d="M435.80,545.60L431.80,546.35L431.80,544.85Z" fill="#222" stroke="#222" stroke-width="0.3"/>
<path d="M227.09,531.20L222.80,536.80L229.23,536.80M227.09,531.20L227.09,539.60M237.65,531.20L233.37,539.60M231.65,531.20L237.65,531.20M241.62,539.20L241.15,539.60L240.69,539.20L241.15,538.80L241.62,539.20L241.62,539.84L241.25,540.56L240.78,540.96M249.80,534.00L249.37,535.20L248.51,536.00L247.23,536.40L246.80,536.40L245.51,536.00L244.66,535.20L244.23,534.00L244.23,533.60L244.66,532.40L245.51,531.60L246.80,531.20L247.23,531.20L248.51,531.60L249.37,532.40L249.80,534.00L249.80,536.00L249.37,538.00L248.51,539.20L247.23,539.60L246.37,539.60L245.09,539.20L244.66,538.40" stroke="#222" stroke-width="0.92" fill="none" stroke-linecap="round" stroke-linejoin="round"/>
<line x1="176.40" y1="499.00" x2="263.00" y2="499.00" stroke="#222" stroke-width="1.00"/>
<path d="M176.40,499.00L180.40,498.25L180.40,499.75Z" fill="#222" stroke="#222" stroke-width="0.3"/>
<path d="M197.60,499.00L193.60,499.75L193.60,498.25Z" fill="#222" stroke="#222" stroke-width="0.3"/>
<path d="M213.15,486.50L213.59,485.70L214.49,485.14L215.38,484.90L216.73,484.90L218.07,485.30L218.51,486.10L218.51,487.10L218.07,487.90L216.95,488.50L215.61,488.70L216.95,488.70L218.07,489.10L218.74,489.90L218.96,490.90L218.96,491.30L218.51,492.10L217.62,492.90L216.28,493.30L214.94,493.30L213.59,492.90L213.15,492.50L212.70,491.70M221.65,489.70L226.57,489.70M232.16,486.90L232.16,486.50L232.58,485.70L232.99,485.30L233.81,484.90L235.46,484.90L236.28,485.30L236.69,485.70L237.10,486.50L237.10,487.30L236.69,488.10L235.87,489.30L231.75,493.30L237.51,493.30M241.32,492.90L240.88,493.30L240.43,492.90L240.88,492.50L241.32,492.90L241.32,493.54L240.97,494.26L240.52,494.66M248.77,484.90L244.65,484.90L244.24,488.50L244.65,488.10L245.89,487.70L247.12,487.70L248.36,488.10L249.18,488.90L249.59,490.10L249.59,490.90L249.18,492.10L248.36,492.90L247.12,493.30L245.89,493.30L244.65,492.90L244.24,492.50L243.83,491.70M256.44,484.90L252.33,490.50L258.50,490.50M256.44,484.90L256.44,493.30" stroke="#222" stroke-width="0.92" fill="none" stroke-linecap="round" stroke-linejoin="round"/>
<line x1="276.80" y1="493.20" x2="435.80" y2="493.20" stroke="#222" stroke-width="1.00"/>
<path d="M324.70,493.20L320.70,493.95L320.70,492.45Z" fill="#222" stroke="#222" stroke-width="0.3"/>
<path d="M366.70,493.20L370.70,492.45L370.70,493.95Z" fill="#222" stroke="#222" stroke-width="0.3"/>
<path d="M366.70,493.20L362.70,493.95L362.70,492.45Z" fill="#222" stroke="#222" stroke-width="0.3"/>
<path d="M435.80,493.20L431.80,493.95L431.80,492.45Z" fill="#222" stroke="#222" stroke-width="0.3"/>
<path d="M278.31,483.30L278.31,482.90L278.73,482.10L279.14,481.70L279.97,481.30L281.63,481.30L282.45,481.70L282.87,482.10L283.28,482.90L283.28,483.70L282.87,484.50L282.04,485.70L277.90,489.70L283.69,489.70M286.63,486.10L291.58,486.10M294.51,483.30L294.51,482.90L294.92,482.10L295.34,481.70L296.17,481.30L297.82,481.30L298.65,481.70L299.06,482.10L299.48,482.90L299.48,483.70L299.06,484.50L298.24,485.70L294.10,489.70L299.89,489.70M303.27,488.90L302.82,489.30L303.27,489.70L303.72,489.30L303.27,488.90M311.21,481.30L307.07,481.30L306.66,484.90L307.07,484.50L308.31,484.10L309.55,484.10L310.80,484.50L311.62,485.30L312.04,486.50L312.04,487.30L311.62,488.50L310.80,489.30L309.55,489.70L308.31,489.70L307.07,489.30L306.66,488.90L306.24,488.10M318.93,481.30L314.79,486.90L321.00,486.90M318.93,481.30L318.93,489.70" stroke="#222" stroke-width="0.92" fill="none" stroke-linecap="round" stroke-linejoin="round"/>
<path d="M376.21,477.60L374.94,478.02L374.52,478.86L374.52,479.70L374.94,480.53L375.79,480.95L377.47,481.37L378.73,481.79L379.58,482.63L380.00,483.47L380.00,484.72L379.58,485.56L379.16,485.98L377.89,486.40L376.21,486.40L374.94,485.98L374.52,485.56L374.10,484.72L374.10,483.47L374.52,482.63L375.36,481.79L376.63,481.37L378.31,480.95L379.16,480.53L379.58,479.70L379.58,478.86L379.16,478.02L377.89,477.60L376.21,477.60M383.90,485.98L383.44,486.40L382.99,485.98L383.44,485.56L383.90,485.98L383.90,486.65L383.53,487.41L383.08,487.82M386.89,479.70L386.89,479.28L387.31,478.44L387.73,478.02L388.57,477.60L390.26,477.60L391.10,478.02L391.52,478.44L391.94,479.28L391.94,480.11L391.52,480.95L390.68,482.21L386.47,486.40L392.36,486.40M400.65,480.53L400.22,481.79L399.38,482.63L398.12,483.05L397.70,483.05L396.43,482.63L395.59,481.79L395.17,480.53L395.17,480.11L395.59,478.86L396.43,478.02L397.70,477.60L398.12,477.60L399.38,478.02L400.22,478.86L400.65,480.53L400.65,482.63L400.22,484.72L399.38,485.98L398.12,486.40L397.27,486.40L396.01,485.98L395.59,485.14M406.80,479.49L406.80,484.10M404.51,481.79L409.09,481.79M404.51,485.56L409.09,485.56M413.73,477.60L412.46,478.02L411.62,479.28L411.20,481.37L411.20,482.63L411.62,484.72L412.46,485.98L413.73,486.40L414.57,486.40L415.83,485.98L416.67,484.72L417.10,482.63L417.10,481.37L416.67,479.28L415.83,478.02L414.57,477.60L413.73,477.60M420.54,485.56L420.08,485.98L420.54,486.40L421.00,485.98L420.54,485.56M423.75,479.28L424.20,478.44L425.12,477.85L426.04,477.60L427.41,477.60L428.78,478.02L429.24,478.86L429.24,479.90L428.78,480.74L427.64,481.37L426.27,481.58L427.64,481.58L428.78,482.00L429.47,482.84L429.70,483.89L429.70,484.30L429.24,485.14L428.33,485.98L426.95,486.40L425.58,486.40L424.20,485.98L423.75,485.56L423.29,484.72" stroke="#222" stroke-width="0.92" fill="none" stroke-linecap="round" stroke-linejoin="round"/>
<line x1="324.70" y1="515.70" x2="366.70" y2="515.70" stroke="#444" stroke-width="1.00"/>
<path d="M324.70,515.70L328.70,514.95L328.70,516.45Z" fill="#222" stroke="#222" stroke-width="0.3"/>
<path d="M366.70,515.70L362.70,516.45L362.70,514.95Z" fill="#222" stroke="#222" stroke-width="0.3"/>
<path d="M337.69,501.10L333.62,501.10L333.21,504.87L333.62,504.45L334.84,504.03L336.06,504.03L337.29,504.45L338.10,505.29L338.51,506.55L338.51,507.39L338.10,508.64L337.29,509.48L336.06,509.90L334.84,509.90L333.62,509.48L333.21,509.06L332.80,508.22M342.29,509.48L341.84,509.90L341.40,509.48L341.84,509.06L342.29,509.48L342.29,510.15L341.93,510.91L341.49,511.32M347.22,501.10L345.99,501.52L345.18,502.78L344.77,504.87L344.77,506.13L345.18,508.22L345.99,509.48L347.22,509.90L348.03,509.90L349.25,509.48L350.07,508.22L350.48,506.13L350.48,504.87L350.07,502.78L349.25,501.52L348.03,501.10L347.22,501.10M355.23,501.10L354.01,501.52L353.60,502.36L353.60,503.20L354.01,504.03L354.82,504.45L356.45,504.87L357.68,505.29L358.49,506.13L358.90,506.97L358.90,508.22L358.49,509.06L358.08,509.48L356.86,509.90L355.23,509.90L354.01,509.48L353.60,509.06L353.19,508.22L353.19,506.97L353.60,506.13L354.41,505.29L355.64,504.87L357.27,504.45L358.08,504.03L358.49,503.20L358.49,502.36L358.08,501.52L356.86,501.10L355.23,501.10" stroke="#222" stroke-width="0.92" fill="none" stroke-linecap="round" stroke-linejoin="round"/>
<path d="M523.6,435.8 V225.5 A8,8.2 0 0 1 531.6,217.3 H535.6 M535.6,216.6 H610.5 M610.5,217.3 H614.6 A7.8,8.2 0 0 1 622.4,225.5 V435.8" stroke="#222" stroke-width="1.00" fill="none"/>
<line x1="523.60" y1="229.50" x2="622.40" y2="229.50" stroke="#222" stroke-width="1.00"/>
<line x1="535.60" y1="216.60" x2="535.60" y2="435.80" stroke="#222" stroke-width="1.00"/>
<line x1="610.50" y1="216.60" x2="610.50" y2="435.80" stroke="#222" stroke-width="1.00"/>
<path d="M622.3,311.8 L624.5,315.7 H641.5 A6.9,7.8 0 0 1 648.4,323.5 V435.8" stroke="#222" stroke-width="1.00" fill="none"/>
<line x1="622.40" y1="324.00" x2="648.40" y2="324.00" stroke="#222" stroke-width="1.00"/>
<line x1="635.60" y1="315.70" x2="635.60" y2="435.80" stroke="#222" stroke-width="1.00"/>
<line x1="523.60" y1="435.80" x2="648.40" y2="435.80" stroke="#222" stroke-width="1.00"/>
<path d="M523.3,435.8 V443.5 H531.8 V435.8" stroke="#222" stroke-width="1.00" fill="none"/>
<path d="M639.3,435.8 V443.5 H648.4 V435.8" stroke="#222" stroke-width="1.00" fill="none"/>
<path d="M541.4,310.2 L565.8,296.3 V304.1 H599.8 V316.3 H565.8 V324.1 Z" stroke="#222" stroke-width="1.00" fill="none"/>
<path d="M533.5,435.8 V483.3 Q533.5,484.4 534.5,484.4 H541.6 Q542.6,484.4 542.6,483.3 V435.8" stroke="#222" stroke-width="1.00" fill="none"/>
<line x1="533.50" y1="475.60" x2="542.60" y2="475.60" stroke="#222" stroke-width="1.00"/>
<line x1="538.05" y1="435.80" x2="538.05" y2="484.40" stroke="#222" stroke-width="1.00" stroke-dasharray="9 1.5 11 1.5"/>
<path d="M628.5,435.8 V483.3 Q628.5,484.4 629.5,484.4 H636.6 Q637.6,484.4 637.6,483.3 V435.8" stroke="#222" stroke-width="1.00" fill="none"/>
<line x1="628.50" y1="475.60" x2="637.60" y2="475.60" stroke="#222" stroke-width="1.00"/>
<line x1="633.05" y1="435.80" x2="633.05" y2="484.40" stroke="#222" stroke-width="1.00" stroke-dasharray="9 1.5 11 1.5"/>
<path d="M554.1,435.8 V476.8 Q554.1,477.6 555,477.6 H559.8 Q560.7,477.6 560.7,476.8 V435.8" stroke="#777" stroke-width="1.00" fill="none"/>
<line x1="557.40" y1="435.80" x2="557.40" y2="477.60" stroke="#777" stroke-width="1.00" stroke-dasharray="8 1.5"/>
<line x1="493.00" y1="216.60" x2="531.60" y2="216.60" stroke="#222" stroke-width="1.00"/>
<line x1="496.00" y1="216.60" x2="496.00" y2="443.50" stroke="#222" stroke-width="1.00"/>
<path d="M496.00,216.60L496.75,220.60L495.25,220.60Z" fill="#222" stroke="#222" stroke-width="0.3"/>
<path d="M496.00,443.50L495.25,439.50L496.75,439.50Z" fill="#222" stroke="#222" stroke-width="0.3"/>
<line x1="492.40" y1="443.50" x2="519.60" y2="443.50" stroke="#222" stroke-width="1.00"/>
<path d="M483.82,357.08L483.40,357.08L482.55,356.66L482.12,356.24L481.70,355.40L481.70,353.72L482.12,352.88L482.55,352.46L483.40,352.04L484.24,352.04L485.09,352.46L486.36,353.30L490.60,357.50L490.60,351.62M481.70,342.95L490.60,347.15M481.70,348.83L481.70,342.95M489.75,339.52L490.18,339.98L490.60,339.52L490.18,339.06L489.75,339.52M483.82,336.09L483.40,336.09L482.55,335.67L482.12,335.25L481.70,334.41L481.70,332.73L482.12,331.89L482.55,331.47L483.40,331.05L484.24,331.05L485.09,331.47L486.36,332.31L490.60,336.51L490.60,330.63M483.61,324.92L488.27,324.92M485.94,327.20L485.94,322.64M489.75,327.20L489.75,322.64M481.70,318.02L482.12,319.28L483.40,320.12L485.51,320.54L486.79,320.54L488.90,320.12L490.18,319.28L490.60,318.02L490.60,317.18L490.18,315.92L488.90,315.08L486.79,314.66L485.51,314.66L483.40,315.08L482.12,315.92L481.70,317.18L481.70,318.02M490.18,310.77L490.60,311.23L490.18,311.68L489.75,311.23L490.18,310.77L490.85,310.77L491.62,311.14L492.04,311.59M483.40,308.03L482.55,307.58L481.95,306.66L481.70,305.75L481.70,304.38L482.12,303.01L482.97,302.56L484.03,302.56L484.88,303.01L485.51,304.15L485.73,305.52L485.73,304.15L486.15,303.01L487.00,302.33L488.06,302.10L488.48,302.10L489.33,302.56L490.18,303.47L490.60,304.84L490.60,306.21L490.18,307.58L489.75,308.03L488.90,308.49" stroke="#222" stroke-width="0.92" fill="none" stroke-linecap="round" stroke-linejoin="round"/>
<line x1="506.30" y1="435.70" x2="519.60" y2="435.70" stroke="#222" stroke-width="1.00"/>
<line x1="509.60" y1="428.10" x2="509.60" y2="465.60" stroke="#222" stroke-width="1.00"/>
<path d="M509.60,435.70L508.70,431.20L510.50,431.20Z" fill="#222" stroke="#222" stroke-width="0.3"/>
<path d="M509.60,443.50L510.50,448.00L508.70,448.00Z" fill="#222" stroke="#222" stroke-width="0.3"/>
<path d="M496.44,461.00L495.80,458.80L504.70,458.80M504.70,460.60L504.70,457.80" stroke="#222" stroke-width="0.92" fill="none" stroke-linecap="round" stroke-linejoin="round"/>
<line x1="624.40" y1="315.70" x2="677.00" y2="315.70" stroke="#222" stroke-width="1.00"/>
<line x1="652.10" y1="443.50" x2="676.80" y2="443.50" stroke="#222" stroke-width="1.00"/>
<line x1="673.20" y1="315.70" x2="673.20" y2="443.50" stroke="#222" stroke-width="1.00"/>
<path d="M673.20,315.70L673.95,319.70L672.45,319.70Z" fill="#222" stroke="#222" stroke-width="0.3"/>
<path d="M673.20,443.50L672.45,439.50L673.95,439.50Z" fill="#222" stroke="#222" stroke-width="0.3"/>
<path d="M659.87,396.50L659.20,394.07L668.60,394.07M668.60,396.06L668.60,392.96M659.20,385.37L659.20,389.45L663.23,389.85L662.78,389.45L662.33,388.22L662.33,387.00L662.78,385.78L663.68,384.97L665.02,384.56L665.91,384.56L667.26,384.97L668.15,385.78L668.60,387.00L668.60,388.22L668.15,389.45L667.70,389.85L666.81,390.26M668.15,380.79L668.60,381.23L668.15,381.67L667.70,381.23L668.15,380.79L668.87,380.79L669.67,381.14L670.12,381.58M660.99,378.13L660.10,377.69L659.47,376.80L659.20,375.92L659.20,374.59L659.65,373.26L660.54,372.82L661.66,372.82L662.56,373.26L663.23,374.37L663.45,375.70L663.45,374.37L663.90,373.26L664.80,372.60L665.91,372.38L666.36,372.38L667.26,372.82L668.15,373.71L668.60,375.03L668.60,376.36L668.15,377.69L667.70,378.13L666.81,378.58M659.20,365.01L659.20,369.09L663.23,369.49L662.78,369.09L662.33,367.86L662.33,366.64L662.78,365.42L663.68,364.61L665.02,364.20L665.91,364.20L667.26,364.61L668.15,365.42L668.60,366.64L668.60,367.86L668.15,369.09L667.70,369.49L666.81,369.90" stroke="#222" stroke-width="0.92" fill="none" stroke-linecap="round" stroke-linejoin="round"/>
</svg>
</body></html>
